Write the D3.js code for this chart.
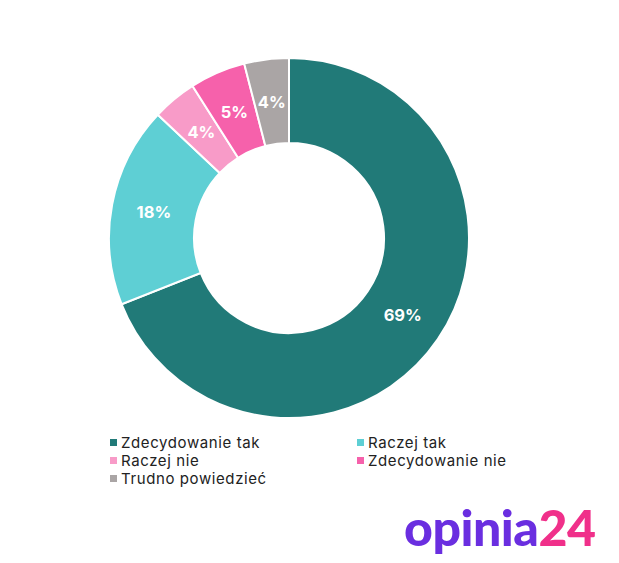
<!DOCTYPE html>
<html><head><meta charset="utf-8">
<script src="https://cdn.jsdelivr.net/npm/d3@7"></script>
<style>body{margin:0;background:#fff;} svg{display:block;}</style>
</head><body>
<svg id="c" width="619" height="563"></svg>
<script>
const categories = ["Zdecydowanie tak","Raczej tak","Raczej nie","Zdecydowanie nie","Trudno powiedzieć"];
const values = [69,18,4,5,4];
const colors = ["#217a78","#5ecfd4","#f89bc8","#f661ab","#aaa5a5"];

const svg = d3.select("#c");
const cx = 289, cy = 238, rOuter = 180, rInner = 95;
const g = svg.append("g").attr("transform",`translate(${cx},${cy})`);
const pie = d3.pie().sort(null).value(d=>d.v);
const data = pie(categories.map((c,i)=>({c, v:values[i], col:colors[i]})));
const arc = d3.arc().innerRadius(rInner).outerRadius(rOuter);
g.selectAll("path").data(data).join("path")
  .attr("d",arc).attr("fill",d=>d.data.col)
  .attr("stroke","#fff").attr("stroke-width",2);
g.selectAll("text").data(data).join("text")
  .attr("transform",d=>`translate(${arc.centroid(d)})`)
  .attr("text-anchor","middle").attr("dy","0.36em")
  .attr("fill","#fff").attr("font-family","Inter, 'Open Sans', sans-serif")
  .attr("font-weight",700).attr("font-size",16.5)
  .text(d=>d.data.v+"%");

// legend
const leg = svg.append("g").attr("font-family","Inter, 'Open Sans', sans-serif").attr("font-size",15).attr("letter-spacing",0.6).attr("fill","#222");
categories.forEach((c,i)=>{
  const col = i%2, row = Math.floor(i/2);
  const x = col===0 ? 110 : 357, y = 443 + row*18;
  leg.append("rect").attr("x",x).attr("y",y-4).attr("width",7).attr("height",7).attr("fill",colors[i]);
  leg.append("text").attr("x",x+11).attr("y",y).attr("dy","0.35em").text(c);
});

// logo
const logo = svg.append("text").attr("x",404).attr("y",546)
  .attr("font-family","Lato, Inter, sans-serif").attr("font-weight",900).attr("font-size",50).attr("letter-spacing",-0.5);
logo.append("tspan").attr("fill","#6a2ee0").text("opinia");
logo.append("tspan").attr("fill","#f0308a").text("24");
</script>
</body></html>
